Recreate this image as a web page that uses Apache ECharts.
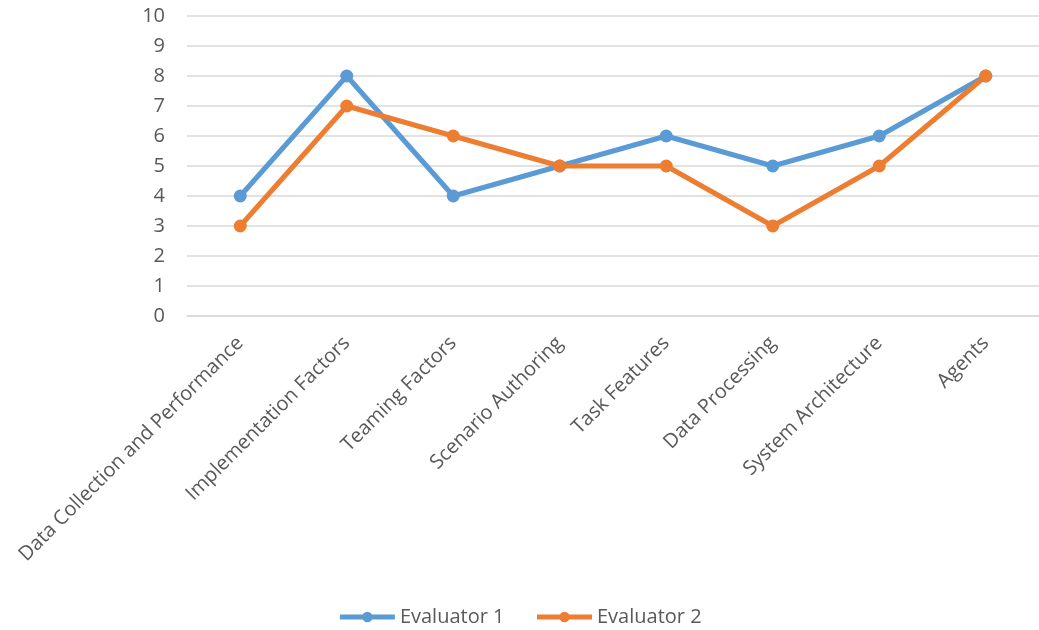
<!DOCTYPE html>
<html><head><meta charset="utf-8">
<script src="https://cdn.jsdelivr.net/npm/echarts@6/dist/echarts.min.js"></script>
<style>html,body{margin:0;padding:0;background:#fff}#c{width:1039px;height:630px}</style>
</head><body><div id="c"></div>
<script>
const categories = ["Data Collection and Performance","Implementation Factors","Teaming Factors","Scenario Authoring","Task Features","Data Processing","System Architecture","Agents"];
const evaluator1 = [4,8,4,5,6,5,6,8];
const evaluator2 = [3,7,6,5,5,3,5,8];
const seriesNames = ["Evaluator 1","Evaluator 2"];
const colors = ["#5B9BD5","#ED7D31"];
const font = "'Open Sans', sans-serif";
const chart = echarts.init(document.getElementById('c'));
chart.setOption({
  animation:false,
  color:colors,
  grid:{left:187,top:16,width:859,height:300,containLabel:false},
  legend:{top:602,left:'center',itemWidth:55,itemHeight:13,itemGap:30,
    lineStyle:{width:5},
    textStyle:{color:'#595959',fontSize:20,fontFamily:font},
    data:seriesNames},
  xAxis:{type:'category',data:categories,boundaryGap:true,
    axisLine:{show:true,lineStyle:{color:'#d9d9d9',width:1.5}},
    axisTick:{show:false},
    axisLabel:{rotate:45,margin:24,color:'#595959',fontSize:20,fontFamily:font,interval:0}},
  yAxis:{type:'value',min:0,max:10,interval:1,
    axisLine:{show:false},axisTick:{show:false},
    splitLine:{lineStyle:{color:'#d9d9d9',width:1.5}},
    axisLabel:{margin:22,color:'#595959',fontSize:20,fontFamily:font}},
  series:[
    {name:seriesNames[0],type:'line',data:evaluator1,symbol:'circle',symbolSize:13,lineStyle:{width:5},itemStyle:{color:colors[0]}},
    {name:seriesNames[1],type:'line',data:evaluator2,symbol:'circle',symbolSize:13,lineStyle:{width:5},itemStyle:{color:colors[1]}}
  ]
});
</script></body></html>
